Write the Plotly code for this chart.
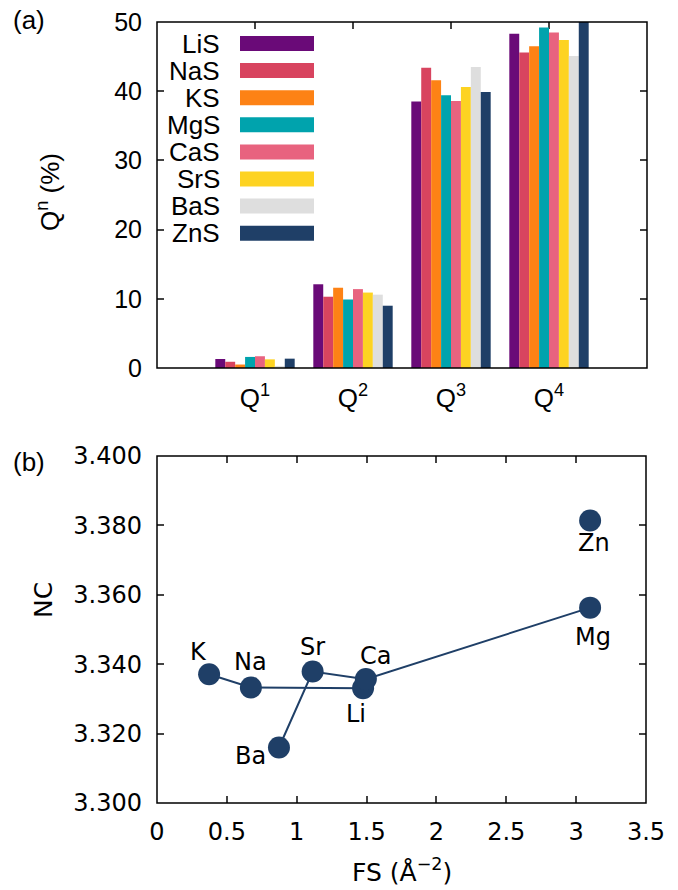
import plotly.graph_objects as go

# ---------------- data ----------------
categories = ["Q<sup>1</sup>", "Q<sup>2</sup>", "Q<sup>3</sup>", "Q<sup>4</sup>"]
series_names = ["LiS", "NaS", "KS", "MgS", "CaS", "SrS", "BaS", "ZnS"]
LiS = [1.3, 12.1, 38.5, 48.3]
NaS = [0.9, 10.3, 43.4, 45.6]
KS = [0.5, 11.6, 41.6, 46.5]
MgS = [1.6, 9.9, 39.4, 49.2]
CaS = [1.7, 11.4, 38.6, 48.5]
SrS = [1.25, 10.9, 40.6, 47.4]
BaS = [0.3, 10.6, 43.5, 45.1]
ZnS = [1.35, 9.0, 39.9, 50.0]
series_values = [LiS, NaS, KS, MgS, CaS, SrS, BaS, ZnS]

elements = ["Li", "Na", "K", "Mg", "Ca", "Sr", "Ba", "Zn"]
fs = [1.475, 0.672, 0.373, 3.10, 1.495, 1.114, 0.873, 3.10]
nc = [3.3331, 3.3333, 3.3371, 3.3563, 3.3357, 3.3379, 3.3160, 3.3814]
alkali = ["Li", "Na", "K"]
alkaline_earth = ["Mg", "Ca", "Sr", "Ba"]

y_ticks_top = [0, 10, 20, 30, 40, 50]
y_ticks_bottom = [3.30, 3.32, 3.34, 3.36, 3.38, 3.40]
x_ticks_bottom = [0, 0.5, 1, 1.5, 2, 2.5, 3, 3.5]

# ---------------- styles ----------------
colors = ["#6a0a78", "#d8445f", "#fd8215", "#00a3ad", "#e8637f", "#fdd322", "#dedede", "#1f3f67"]
dark = "#1f3f67"
label_offsets = {  # (xshift, yshift) in px
    "K": (-11, 22), "Na": (0, 25), "Sr": (0, 24), "Ca": (10, 23),
    "Li": (-7, -26), "Ba": (-28, -9), "Mg": (3, -29), "Zn": (4, -22),
}

W, H = 678, 890
def px(x):
    return x / W
def py(y):
    return 1 - y / H

fig = go.Figure()

for name, vals, col in zip(series_names, series_values, colors):
    fig.add_trace(go.Bar(x=categories, y=vals, name=name, marker=dict(color=col, line=dict(width=0)),
                         xaxis="x", yaxis="y", showlegend=False))

idx = {e: i for i, e in enumerate(elements)}
for grp in (alkali, alkaline_earth):
    fig.add_trace(go.Scatter(x=[fs[idx[e]] for e in grp], y=[nc[idx[e]] for e in grp],
                             mode="lines", line=dict(color=dark, width=2),
                             xaxis="x2", yaxis="y2", showlegend=False, hoverinfo="skip"))
fig.add_trace(go.Scatter(x=fs, y=nc, mode="markers", marker=dict(color=dark, size=22),
                         text=elements, xaxis="x2", yaxis="y2", showlegend=False))

font_top = "Liberation Sans, Arial, sans-serif"
font_bot = "DejaVu Sans, sans-serif"

annotations = []
for e, x, y in zip(elements, fs, nc):
    dx, dy = label_offsets[e]
    annotations.append(dict(x=x, y=y, xref="x2", yref="y2", text=e, showarrow=False,
                            xanchor="center", yanchor="middle",
                            xshift=dx, yshift=dy, font=dict(family=font_bot, size=24, color="black")))

# custom legend (gnuplot style: text left, box right)
shapes = []
for i, (name, col) in enumerate(zip(series_names, colors)):
    yc = 43.5 + 27.1 * i
    shapes.append(dict(type="rect", xref="paper", yref="paper",
                       x0=px(240), x1=px(314), y0=py(yc + 7.5), y1=py(yc - 7.5),
                       fillcolor=col, line=dict(width=0), layer="above"))
    annotations.append(dict(x=px(222), y=py(yc), xref="paper", yref="paper", text=name,
                            xanchor="right", yanchor="middle", showarrow=False,
                            font=dict(family=font_top, size=26, color="black")))

# frames
for xr, yr in (("x domain", "y domain"), ("x2 domain", "y2 domain")):
    shapes.append(dict(type="rect", xref=xr, yref=yr, x0=0, x1=1, y0=0, y1=1,
                       line=dict(color="black", width=1.5), layer="above"))

# titles and panel labels
def lab(x, y, text, family, size, angle=0):
    return dict(x=px(x), y=py(y), xref="paper", yref="paper", text=text, textangle=angle,
                xanchor="center", yanchor="middle", showarrow=False,
                font=dict(family=family, size=size, color="black"))

annotations += [
    lab(49, 192, "Q<sup>n</sup> (%)", font_top, 26, -90),
    lab(29, 20, "(a)", font_top, 26),
    lab(29, 462, "(b)", font_top, 26),
    lab(43, 600, "NC", font_bot, 25, -90),
    lab(402, 870, "FS (Å<sup>−2</sup>)", font_bot, 25),
]

tick_common = dict(ticks="inside", ticklen=7, tickwidth=1.5, tickcolor="#444", mirror="ticks",
                   showline=False, showgrid=False, zeroline=False, layer="below traces",
                   automargin=False)

fig.update_layout(
    width=W, height=H, margin=dict(l=0, r=0, t=0, b=0, autoexpand=False),
    paper_bgcolor="white", plot_bgcolor="white",
    barmode="group", bargap=0.19, bargroupgap=0,
    xaxis=dict(domain=[px(157), px(647)], anchor="y", range=[-1, 4], type="category",
               tickfont=dict(family=font_top, size=26, color="black"), ticklabelstandoff=12,
               **tick_common),
    yaxis=dict(domain=[py(368), py(22)], anchor="x", range=[0, 50], tickvals=y_ticks_top,
               tickfont=dict(family=font_top, size=25, color="black"), ticklabelstandoff=14,
               **tick_common),
    xaxis2=dict(domain=[px(157), px(646)], anchor="y2", range=[0, 3.5], tickvals=x_ticks_bottom,
                tickfont=dict(family=font_bot, size=24, color="black"), ticklabelstandoff=12,
                **tick_common),
    yaxis2=dict(domain=[py(803), py(456)], anchor="x2", range=[3.3, 3.4], tickvals=y_ticks_bottom,
                tickformat=".3f", tickfont=dict(family=font_bot, size=24, color="black"),
                ticklabelstandoff=14, **tick_common),
    shapes=shapes, annotations=annotations,
)

fig.write_html("out.html")
